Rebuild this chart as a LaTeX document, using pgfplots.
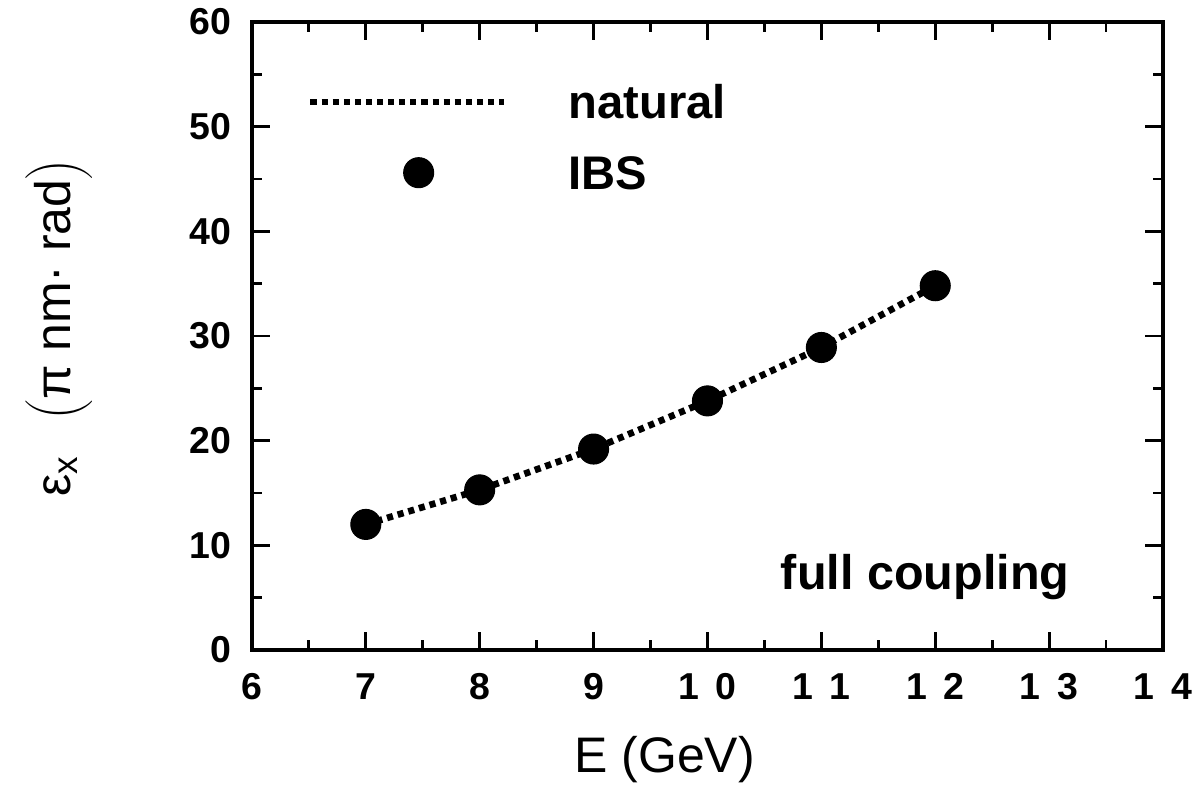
\documentclass[border=0pt]{standalone}
\usepackage{pgfplots}
\pgfplotsset{compat=1.18}
\usepackage{fontspec}
\setmainfont{Liberation Sans}

\pgfplotsset{
    natlegend/.style={legend image code/.code={
        \draw[##1] (0pt,0pt) -- (69.6pt,0pt);
        \path[draw=none, fill=none] (0pt,0pt) -- (93pt,0pt);
    }},
    ibslegend/.style={legend image code/.code={
        \draw[##1] plot coordinates {(39pt,0pt)};
        \path[draw=none, fill=none] (0pt,0pt) -- (93pt,0pt);
    }},
}

\begin{document}
\begin{tikzpicture}
\begin{axis}[
    scale only axis,
    width=328.4pt, height=226.4pt,
    xmin=6, xmax=14,
    ymin=0, ymax=60,
    xtick={6,7,8,9,10,11,12,13,14},
    xticklabels={6,7,8,9,1\hspace{6pt}0,1\hspace{6pt}1,1\hspace{6pt}2,1\hspace{6pt}3,1\hspace{6pt}4},
    ytick={0,10,20,30,40,50,60},
    minor x tick num=1,
    minor y tick num=1,
    major tick length=6.5pt,
    minor tick length=3.5pt,
    every tick/.style={black, line width=1pt},
    axis line style={line width=1.5pt},
    /pgf/number format/assume math mode=true,
    tick label style={font=\bfseries\fontsize{13.5}{13.5}\selectfont},
    xticklabel style={yshift=-5pt},
    yticklabel style={xshift=-4pt},
    xlabel={E (GeV)},
    xlabel style={at={(axis description cs:0.453,-0.175)}, anchor=center,
        font=\fontsize{18}{18}\selectfont},
    ylabel={ε\textsubscript{x}\hspace{0.7em}$\bigg(\mbox{π nm· rad}\bigg)$},
    ylabel style={at={(axis description cs:-0.212,0.513)}, anchor=center,
        font=\fontsize{18}{18}\selectfont},
    legend style={
        at={(axis description cs:0.060,0.90)}, anchor=north west,
        draw=none, fill=none, inner sep=0pt,
        font=\bfseries\fontsize{17}{17}\selectfont,
        row sep=13.5pt,
        nodes={inner sep=0pt, text height=12pt, text depth=0pt},
    },
    legend cell align=left,
]

% natural emittance (dotted curve)
\addplot[black, mark=none, line width=2.4pt, dash pattern=on 2.2pt off 1.8pt, natlegend]
    coordinates {
    (7,12.0)(8,15.3)(9,19.2)(10,23.8)(11,28.9)(12,34.8)
    };
\addlegendentry{natural}

% with intra-beam scattering
\addplot[black, only marks, mark=*, mark size=5.4pt, ibslegend]
    coordinates {
    (7,12.0)(8,15.3)(9,19.2)(10,23.8)(11,28.9)(12,34.8)
    };
\addlegendentry{IBS}

\node[anchor=base west, inner sep=0pt, font=\bfseries\fontsize{17.5}{17.5}\selectfont]
    at (axis cs:10.64,5.8) {full coupling};
\end{axis}
\pgfresetboundingbox
\path[use as bounding box]
    ([shift={(-90.8pt,-55.9pt)}]current axis.south west)
    rectangle ([shift={(10.8pt,7.9pt)}]current axis.north east);
\end{tikzpicture}
\end{document}
